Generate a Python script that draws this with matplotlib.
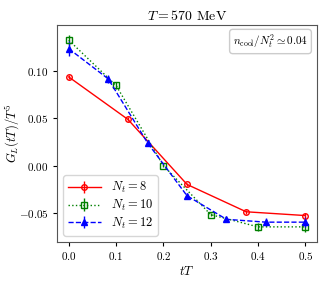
import matplotlib
matplotlib.use("Agg")
import matplotlib.pyplot as plt

plt.rcParams["font.family"] = "serif"
plt.rcParams["font.serif"] = ["cmr10", "DejaVu Serif"]
plt.rcParams["mathtext.fontset"] = "cm"
plt.rcParams["axes.formatter.use_mathtext"] = True

# data
tT_8 = [0.0, 0.125, 0.25, 0.375, 0.5]
G_8 = [0.094, 0.049, -0.020, -0.049, -0.053]
err_8 = [0.002, 0.002, 0.002, 0.002, 0.003]

tT_10 = [0.0, 0.1, 0.2, 0.3, 0.4, 0.5]
G_10 = [0.133, 0.085, 0.000, -0.052, -0.065, -0.065]
err_10 = [0.005, 0.004, 0.002, 0.002, 0.004, 0.005]

tT_12 = [0.0, 1/12, 1/6, 0.25, 1/3, 5/12, 0.5]
G_12 = [0.124, 0.092, 0.024, -0.032, -0.057, -0.060, -0.060]
err_12 = [0.008, 0.004, 0.002, 0.002, 0.002, 0.004, 0.005]

fig = plt.figure(figsize=(3.29, 2.82), dpi=100)
ax = fig.add_axes([0.173, 0.142, 0.791, 0.769])

ax.errorbar(tT_8, G_8, yerr=err_8, color="red", linestyle="-", marker="o",
            markersize=4, fillstyle="none", linewidth=1, label=r"$N_t = 8$")
ax.errorbar(tT_10, G_10, yerr=err_10, color="green", linestyle=":", marker="s",
            markersize=4, fillstyle="none", linewidth=1, label=r"$N_t = 10$")
ax.errorbar(tT_12, G_12, yerr=err_12, color="blue", linestyle="--", marker="^",
            markersize=4, linewidth=1, label=r"$N_t = 12$")

ax.set_xticks([0.0, 0.1, 0.2, 0.3, 0.4, 0.5])
ax.set_yticks([-0.05, 0.0, 0.05, 0.10])
ax.set_ylim(-0.081, 0.149)
ax.tick_params(labelsize=8, length=3, pad=3)
ax.set_xlabel(r"$tT$", fontsize=9, labelpad=2)
ax.set_ylabel(r"$G_L(tT)/T^5$", fontsize=9)
ax.yaxis.set_label_coords(-0.135, 0.5)
ax.set_title(r"$T = 570$ MeV", fontsize=10, pad=4)
for s in ax.spines.values():
    s.set_color("#555555")

ax.text(0.965, 0.965, r"$n_{\rm cool}/N_t^2 \simeq 0.04$", transform=ax.transAxes,
        ha="right", va="top", fontsize=8,
        bbox=dict(boxstyle="round,pad=0.3", facecolor="white", edgecolor="#cccccc"))
ax.legend(loc="lower left", fontsize=9, labelspacing=0.2, handlelength=2.6,
          borderpad=0.4)

fig.savefig("out.png", dpi=100)
